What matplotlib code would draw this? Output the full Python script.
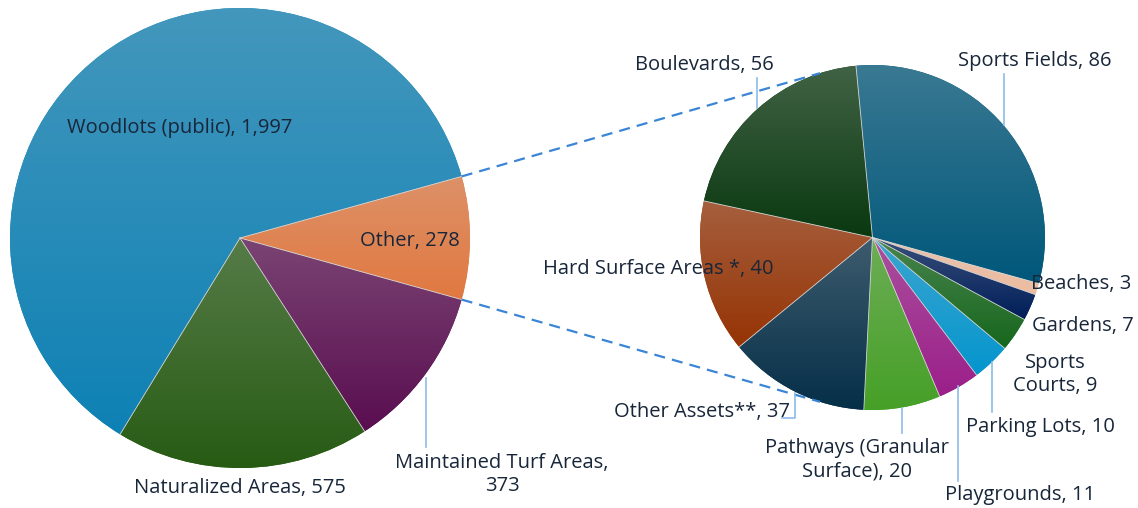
import numpy as np
import matplotlib.pyplot as plt
from matplotlib.colors import to_rgb

plt.rcParams['font.family'] = ['Open Sans', 'DejaVu Sans']

# main pie
main_labels = ['Woodlots (public)', 'Naturalized Areas', 'Maintained Turf Areas', 'Other']
main_values = [1997, 575, 373, 278]
main_colors = ['#0E85BA', '#285E14', '#5C0E52', '#E87C42']

# breakdown of "Other"
sub_labels = ['Sports Fields', 'Beaches', 'Gardens', 'Sports Courts', 'Parking Lots',
              'Playgrounds', 'Pathways (Granular Surface)', 'Other Assets**',
              'Hard Surface Areas *', 'Boulevards']
sub_values = [86, 3, 7, 9, 10, 11, 20, 37, 40, 56]
sub_colors = ['#005A7E', '#F5C2A4', '#001F5C', '#176A1E', '#049AD4',
              '#A0208E', '#48A528', '#05304A', '#9A3505', '#0A3A10']

W, H = 1138, 508
TXT = '#182639'
LEAD = '#8CBBE8'


def Y(y):
    return H - y


fig = plt.figure(figsize=(W / 100, H / 100), dpi=100)
ax = fig.add_axes([0, 0, 1, 1])
ax.axis('off')

c1, r1 = (240, Y(238)), 230
c2, r2 = (872.5, Y(237.5)), 172.5

start1 = main_values[-1] / sum(main_values) * 180
w1, _ = ax.pie(main_values, colors=main_colors, center=c1, radius=r1,
               startangle=start1, counterclock=True,
               wedgeprops=dict(linewidth=0))
w2, _ = ax.pie(sub_values, colors=sub_colors, center=c2, radius=r2,
               startangle=95.5, counterclock=False,
               wedgeprops=dict(linewidth=0))


def shade(wedge, color):
    v = wedge.get_path().vertices
    x0, x1 = v[:, 0].min(), v[:, 0].max()
    y0, y1 = v[:, 1].min(), v[:, 1].max()
    base = np.array(to_rgb(color))
    top = base + 0.3 * (np.array([0.76, 0.76, 0.76]) - base)
    bot = base * 0.97
    t = np.linspace(0, 1, 200)[:, None]
    grad = (bot * (1 - t) + top * t)[:, None, :]
    im = ax.imshow(grad, extent=(x0, x1, y0, y1), origin='lower',
                   aspect='auto', zorder=wedge.get_zorder() + 0.1,
                   interpolation='bilinear')
    im.set_clip_path(wedge)


for w, c in zip(w1, main_colors):
    shade(w, c)
for w, c in zip(w2, sub_colors):
    shade(w, c)

# thin light separators between slices
for ws in (w1, w2):
    for w in ws:
        a = np.radians(w.theta1)
        cx, cy = w.center
        ax.plot([cx, cx + w.r * np.cos(a)], [cy, cy + w.r * np.sin(a)],
                color='#d8d8d8', lw=0.6, zorder=5)

# connector lines between "Other" and the breakdown pie
a = np.radians(start1)
dx = 52.5
dy = np.sqrt(r2 ** 2 - dx ** 2)
for s in (1, -1):
    ax.plot([c1[0] + r1 * np.cos(a), c2[0] - dx],
            [c1[1] + s * r1 * np.sin(a), c2[1] + s * dy],
            color='#3A85D5', lw=1.6, ls=(0, (5, 3.2)), zorder=6)

fmt = lambda lab, v, sep=', ': f'{lab}{sep}{v:,}'

# label layout (pixel positions)
texts = [
    (fmt(main_labels[0], main_values[0]), 180, 128, 'center'),
    (fmt(main_labels[3], main_values[3]), 410, 241, 'center'),
    (fmt(main_labels[1], main_values[1]), 240, 488, 'center'),
    (fmt(main_labels[2], main_values[2], ',\n'), 502, 474.5, 'center'),
    (fmt(sub_labels[9], sub_values[9]), 704, 65, 'center'),
    (fmt(sub_labels[0], sub_values[0]), 1035, 61, 'center'),
    (fmt(sub_labels[8], sub_values[8]), 658, 269, 'center'),
    (fmt(sub_labels[1], sub_values[1]), 1081, 284, 'center'),
    (fmt(sub_labels[2], sub_values[2]), 1083, 326, 'center'),
    (fmt('Sports\nCourts', sub_values[3]), 1055, 374.5, 'center'),
    (fmt(sub_labels[4], sub_values[4]), 1040, 427, 'center'),
    (fmt(sub_labels[5], sub_values[5]), 1020, 495, 'center'),
    (fmt('Pathways (Granular\nSurface)', sub_values[6]), 857, 460, 'center'),
    (fmt(sub_labels[7], sub_values[7]), 790, 412, 'right'),
]
for s, x, y, ha in texts:
    ax.text(x, Y(y), s, ha=ha, va='center', fontsize=14.5, color=TXT,
            linespacing=1.25, zorder=10, multialignment='center')

leaders = [
    [(426, 378), (426, 447)],
    [(757, 108), (757, 78)],
    [(1004, 125), (1004, 74)],
    [(992, 362), (992, 412)],
    [(958, 386), (958, 481)],
    [(902, 408), (902, 433)],
    [(795, 393), (795, 418), (782, 418)],
]
for pts in leaders:
    xs, ys = zip(*pts)
    ax.plot(xs, [Y(v) for v in ys], color=LEAD, lw=1.2, zorder=7)

ax.set_xlim(0, W)
ax.set_ylim(0, H)
ax.set_aspect('auto')
fig.savefig('out.png', dpi=100, facecolor='white')
